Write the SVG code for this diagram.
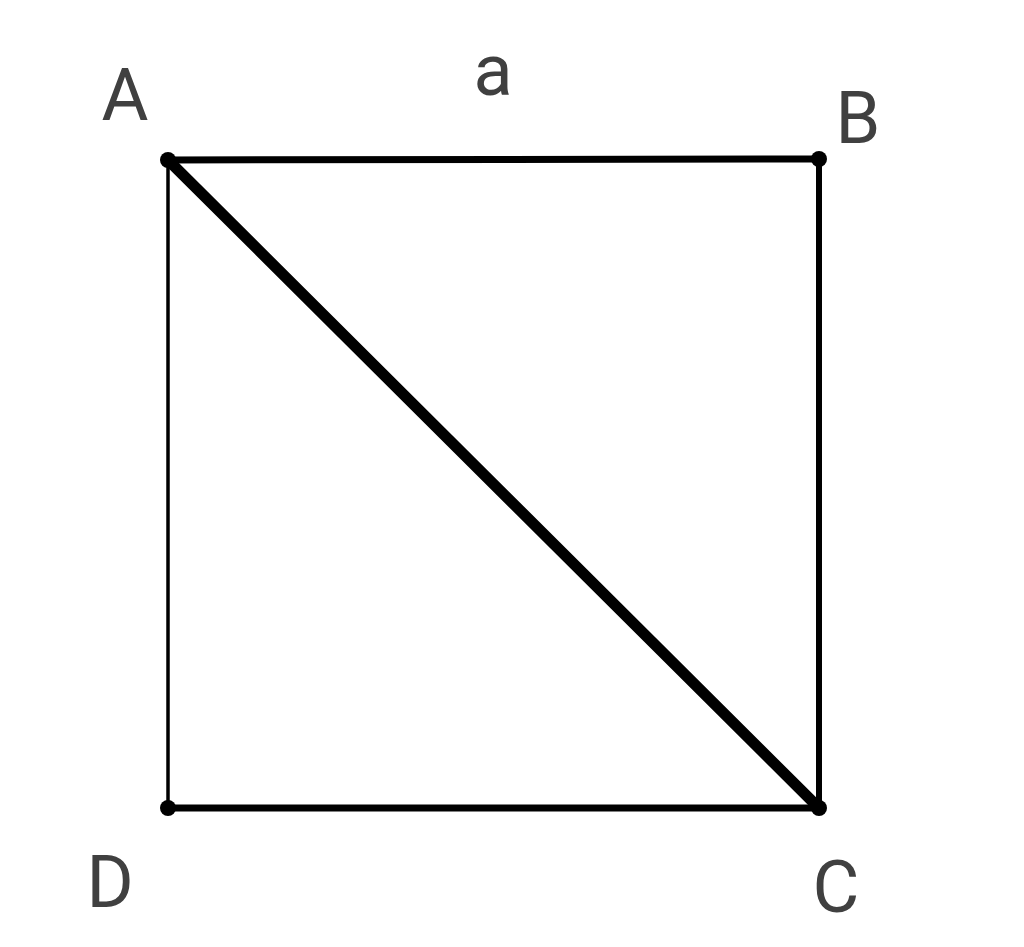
<svg xmlns="http://www.w3.org/2000/svg" width="1024" height="947" viewBox="0 0 1024 947">
<style>
.lbl{font-family:Roboto,"Liberation Sans",sans-serif;font-size:72px;fill:#404040;text-anchor:middle}
.e{stroke:#000;stroke-linecap:round;fill:none}
</style>
<rect width="1024" height="947" fill="#fff"/>
<g id="edges">
<line class="e" x1="168" y1="160" x2="819" y2="159" stroke-width="7"/>
<line class="e" x1="819" y1="159" x2="819" y2="808" stroke-width="6"/>
<line class="e" x1="168" y1="808" x2="819" y2="808" stroke-width="7"/>
<line class="e" x1="168" y1="160" x2="168" y2="808" stroke-width="3.5"/>
<line class="e" x1="168" y1="160" x2="819" y2="808" stroke-width="11"/>
</g>
<g id="A"><circle cx="168" cy="160" r="8"/><text class="lbl" x="125" y="120">A</text></g>
<g id="B"><circle cx="819" cy="159" r="8"/><text class="lbl" x="858" y="143">B</text></g>
<g id="C"><circle cx="819" cy="808" r="8"/><text class="lbl" x="836" y="912">C</text></g>
<g id="D"><circle cx="168" cy="808" r="8"/><text class="lbl" x="110" y="907">D</text></g>
<g id="side"><text class="lbl" x="493" y="95">a</text></g>
</svg>
